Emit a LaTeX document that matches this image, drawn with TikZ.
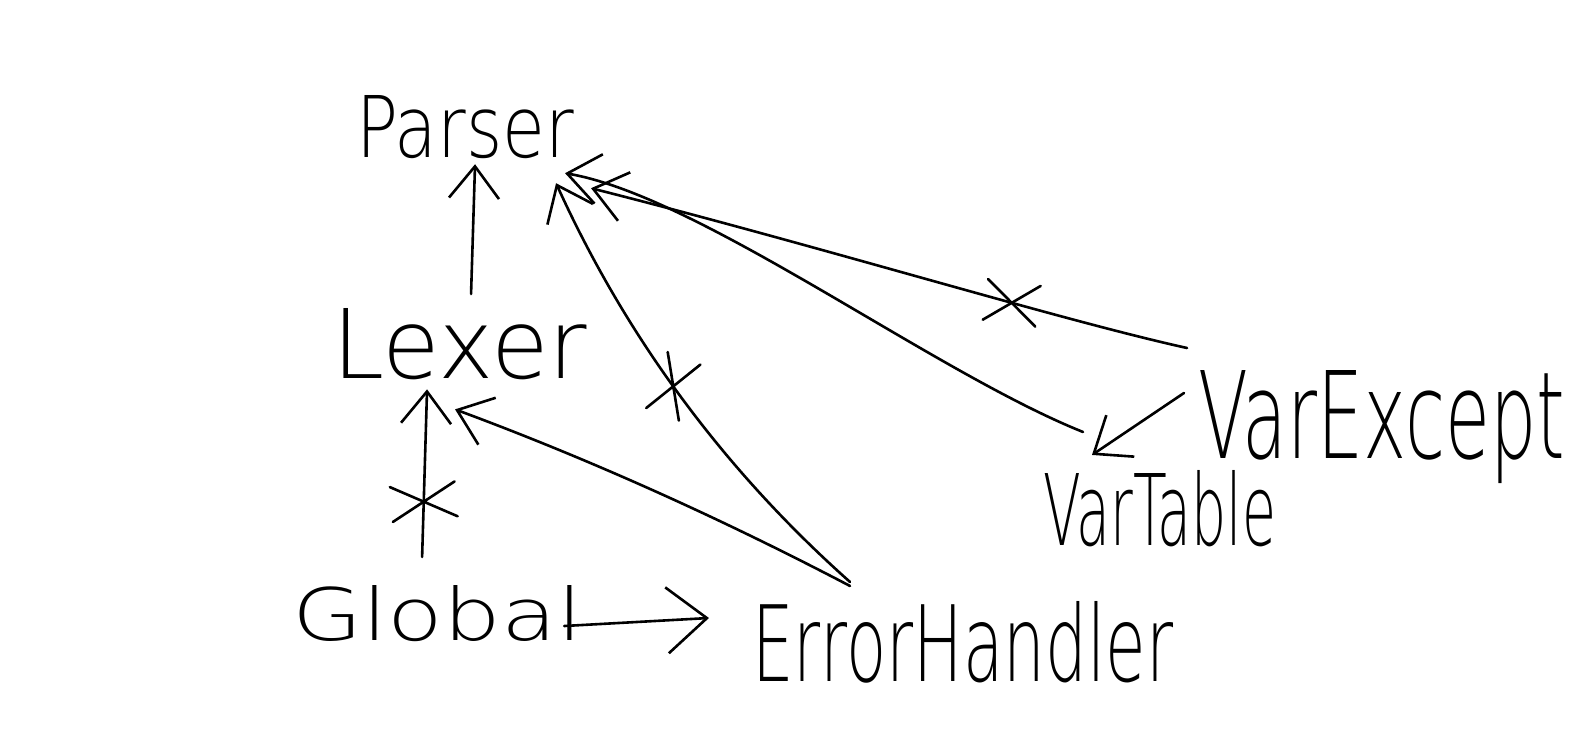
\documentclass[tikz,border=0pt]{standalone}
\usepackage{fontspec}
\IfFontExistsTF{DejaVuSans-ExtraLight.ttf}{\setmainfont{DejaVuSans-ExtraLight.ttf}}{\setmainfont{DejaVu Sans}}
\usetikzlibrary{arrows.meta,calc,shapes.misc}
\begin{document}
\begin{tikzpicture}[x=1pt,y=-1pt,line width=2.6pt,line cap=round,line join=round,
  lbl/.style={inner sep=0pt,outer sep=0pt,anchor=base west},
  conn/.style={-{Straight Barb[length=32pt,width=50pt]}},
  bigconn/.style={-{Straight Barb[length=40pt,width=66pt]}},
  xmark/.style n args={3}{-,cross out,draw,inner sep=0pt,outer sep=0pt,
    minimum width=#1,minimum height=#2,rotate=#3}]
\fill[white] (0,0) rectangle (1588,734);
\useasboundingbox (0,0) rectangle (1588,734);

% labels
\node[lbl] (parser)    at (356,157)  {\resizebox{218pt}{62pt}{Parser}};
\node[lbl] (lexer)     at (332,378)  {\resizebox{255pt}{70pt}{Lexer}};
\node[lbl] (global)    at (292,640)  {\resizebox{290pt}{55pt}{Global}};
\node[lbl] (errh)      at (752,681)  {\resizebox{421pt}{80pt}{ErrorHandler}};
\node[lbl] (vartable)  at (1043,545) {\resizebox{233pt}{75pt}{VarTable}};
\node[lbl] (varexcept) at (1198,458) {\resizebox{367pt}{88pt}{VarExcept}};

% Lexer -> Parser
\draw[conn] ($(lexer.north)+(11.5,-14)$) -- ($(parser.south)+(10,6)$);

% Global -> Lexer (crossed)
\draw[conn] ($(global.north)+(-15,-28)$) -- ($(lexer.south)+(-32.5,10)$)
  node[xmark={65pt}{35pt}{5},pos=0.33] (x1) {};

% ErrorHandler -> Lexer
\draw[conn] ($(errh.north west)+(98,-15)$) .. controls +(-128,-67) and +(135,50) ..
  ($(lexer.south)+(-4.5,30)$);

% ErrorHandler -> Parser (crossed)
\draw[conn] ($(errh.north west)+(98,-19)$) .. controls +(-126,-112) and +(70,154) ..
  ($(parser.south)+(91,25)$)
  node[xmark={60pt}{35pt}{69},pos=0.53] (x2) {};

% VarExcept -> Parser (crossed)
\draw[conn] ($(varexcept.north west)+(-11,-22)$) .. controls +(-127,-28) and +(229,58) ..
  ($(parser.south)+(126,30)$)
  node[xmark={53pt}{41pt}{-7.5},pos=0.36] (x3) {};

% VarTable -> Parser
\draw[conn] ($(vartable.north west)+(40,-38)$) .. controls +(-150,-60) and +(135,23) ..
  ($(parser.south)+(100,15)$);

% VarExcept -> VarTable
\draw[conn] ($(varexcept.north west)+(-14,23)$) -- ($(vartable.north west)+(49,-15)$);

% Global -> ErrorHandler
\draw[bigconn] ($(global.base east)+(-18,-14)$) -- ($(errh.base west)+(-43,-63)$);
\end{tikzpicture}
\end{document}
